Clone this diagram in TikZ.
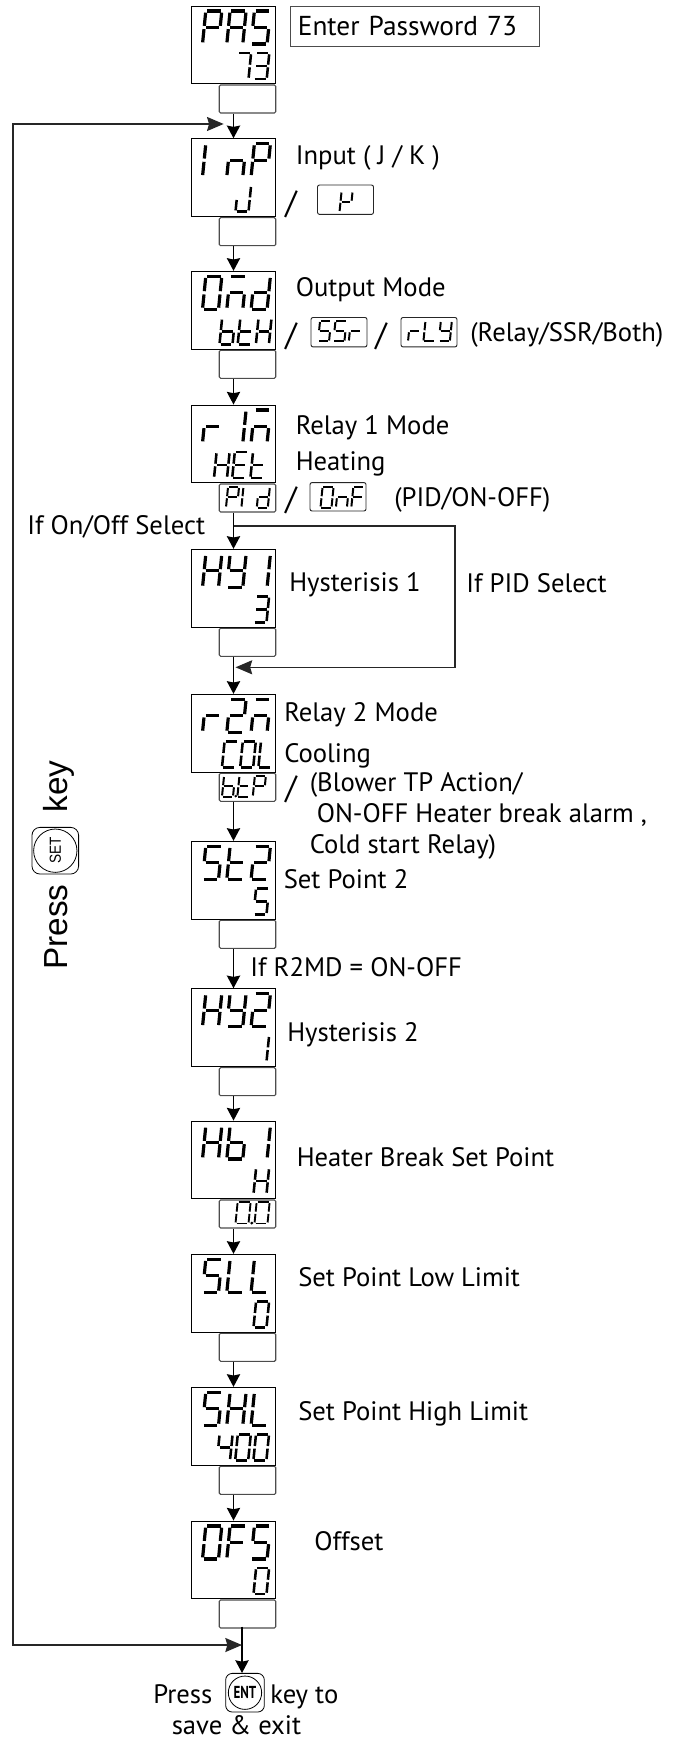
\documentclass[tikz,border=0pt]{standalone}
\usepackage{fontspec}
\setmainfont{PT Sans}
\newfontfamily\arialfont{Liberation Sans}
\usetikzlibrary{arrows.meta}

\tikzset{
  dispbox/.style={draw,line width=.8pt,minimum width=63.4pt,minimum height=58.4pt,inner sep=0pt},
  keybox/.style={draw=black!70,line width=.8pt,rounded corners=1pt,minimum width=42.4pt,minimum height=21pt,inner sep=0pt},
  optbox/.style={draw=black!85,line width=.7pt,rounded corners=1.5pt,inner sep=0pt},
  lbl/.style={anchor=base west,inner sep=0pt,font=\fontsize{20}{22}\selectfont},
  slashmark/.style={lbl,font=\fontsize{24}{24}\selectfont},
  flow/.style={-{Stealth[length=9.5pt,width=10pt,inset=1pt]},line width=.9pt},
  back/.style={{Stealth[length=12.5pt,width=10.5pt,inset=1.5pt]}-{Stealth[length=12.5pt,width=10.5pt,inset=1.5pt]},line width=1.1pt,draw=black!85},
}

% segments of one digit cell
\def\lcdsega{\draw (.08,1) -- (.92,1);}
\def\lcdsegb{\draw (1,.95) -- (1,.55);}
\def\lcdsegc{\draw (1,.45) -- (1,.05);}
\def\lcdsegd{\draw (.08,0) -- (.92,0);}
\def\lcdsege{\draw (0,.45) -- (0,.05);}
\def\lcdsegf{\draw (0,.95) -- (0,.55);}
\def\lcdsegg{\draw (.1,.5) -- (.9,.5);}
\def\lcdsegp{\fill (1.25,.02) ellipse (.13 and .07);}

% segments lit for each reading
\def\lcdglyphP{a,b,e,f,g}
\def\lcdglyphA{a,b,c,e,f,g}
\def\lcdglyphS{a,c,d,f,g}
\def\lcdglyphI{e,f}
\def\lcdglyphn{c,e,g}
\def\lcdglyphM{a,c,e,g}
\def\lcdglyphd{b,c,d,e,g}
\def\lcdglyphb{c,d,e,f,g}
\expandafter\def\csname lcdglyphb.\endcsname{c,d,e,f,g,p}
\def\lcdglypht{d,e,f,g}
\def\lcdglyphH{b,c,e,f,g}
\def\lcdglyphE{a,d,e,f,g}
\def\lcdglyphr{e,g}
\def\lcdglyphY{b,c,d,f,g}
\def\lcdglyphJ{b,c,d,e}
\def\lcdglyphC{a,d,e,f}
\def\lcdglyphL{d,e,f}
\def\lcdglyphF{a,e,f,g}
\def\lcdglyphK{b,e,f,g}
\def\lcdglyphO{a,b,c,d,e,f}
\expandafter\def\csname lcdglyph0\endcsname{a,b,c,d,e,f}
\expandafter\def\csname lcdglyph0.\endcsname{a,b,c,d,e,f,p}
\expandafter\def\csname lcdglyph1\endcsname{b,c}
\expandafter\def\csname lcdglyph2\endcsname{a,b,d,e,g}
\expandafter\def\csname lcdglyph3\endcsname{a,b,c,d,g}
\expandafter\def\csname lcdglyph4\endcsname{b,c,f,g}
\expandafter\def\csname lcdglyph5\endcsname{a,c,d,f,g}
\expandafter\def\csname lcdglyph7\endcsname{a,b,c}

% #1 left, #2 top, #3 height, #4 digit width, #5 pitch, #6 stroke, #7 digits
\newcommand{\lcdrow}[7]{
  \foreach \c [count=\i from 0] in {#7} {
    \begin{scope}[shift={(#1+\i*#5,#2+#3)},xscale=#4,yscale=-#3,xslant={-.1*#3/#4},line width=#6]
      \edef\seglist{\csname lcdglyph\c\endcsname}
      \foreach \s in \seglist {\csname lcdseg\s\endcsname}
    \end{scope}
  }
}
\newcommand{\lcdtop}[2]{\lcdrow{202.5}{#1+5}{33}{16}{24.3}{2.4pt}{#2}}
\newcommand{\lcdlow}[3]{\lcdrow{#1}{#2+47}{26}{13}{18.2}{1.9pt}{#3}}
\newcommand{\lcdopt}[3]{\lcdrow{#1}{#2}{20.5}{11}{15.4}{1.5pt}{#3}}
% one display and the key field under it
\newcommand{\lcdbox}[2]{
  \node[dispbox] (#1) at (233.5,#2+39) {};
  \node[keybox,anchor=north east] (#1key) at (#1.south east) {};
}

\begin{document}
\begin{tikzpicture}[x=.75pt,y=-.75pt]
  \useasboundingbox (0,0) rectangle (698,1740);

  \lcdbox{pas}{6}
  \lcdtop{6}{P,A,S}
  \lcdlow{235.5}{6}{7,3}
  \node[draw=black!70,line width=.8pt,minimum width=186.6pt,minimum height=30pt,inner sep=0pt,text width=176pt,align=left,font=\fontsize{20.5}{22}\selectfont] (passlabel) at (415.2,26.3) {Enter Password 73};

  \lcdbox{inp}{138.7}
  \lcdtop{138.7}{I,n,P}
  \lcdlow{235.5}{138.7}{J}
  \node[lbl] (inplabel) at (295.5,165) {Input ( J / K )};
  \node[slashmark] (inpslash) at (285,214) {/};
  \node[optbox,minimum width=42pt,minimum height=22pt] (inpk) at (345.5,199.7) {};
  \lcdopt{339.5}{191.5}{K}

  \lcdbox{omd}{271.3}
  \lcdtop{271.3}{O,M,d}
  \lcdlow{219.5}{271.3}{b,t,H}
  \node[lbl] (omdlabel) at (295.5,296.7) {Output Mode};
  \node[slashmark] (omdslash) at (285,346) {/};
  \node[optbox,minimum width=42pt,minimum height=22pt] (omdssr) at (339,332.2) {};
  \lcdopt{318}{321}{5,5,r}
  \node[slashmark] (omdslashb) at (375,346) {/};
  \node[optbox,minimum width=42pt,minimum height=22pt] (omdrly) at (429,332.2) {};
  \lcdopt{408}{321}{r,L,Y}
  \node[lbl] (omdnote) at (470,341.7) {(Relay/SSR/Both)};

  \lcdbox{rim}{405}
  \lcdtop{405}{r,1,M}
  \lcdlow{214}{405}{H,E,t}
  \lcdopt{226}{487}{P,I,d}
  \node[lbl] (rimlabel) at (295.5,435) {Relay 1 Mode};
  \node[lbl] (rimheat) at (295.5,470) {Heating};
  \node[slashmark] (rimslash) at (285,509) {/};
  \node[optbox,minimum width=42pt,minimum height=21.3pt] (rimonf) at (338,496.8) {};
  \lcdopt{320.5}{487}{O,n,F}
  \node[lbl] (rimnote) at (394,506.7) {(PID/ON-OFF)};
  \node[lbl] (onofflabel) at (27,534) {If On/Off Select};

  \lcdbox{hya}{549.3}
  \lcdtop{549.3}{H,Y,1}
  \lcdlow{253.5}{549.3}{3}
  \node[lbl] (hyalabel) at (289,591) {Hysterisis 1};
  \node[lbl] (pidlabel) at (466,592) {If PID Select};

  \lcdbox{rtm}{694.3}
  \lcdtop{694.3}{r,2,M}
  \lcdlow{222}{694.3}{C,O,L}
  \lcdopt{222}{776}{b.,t,P}
  \node[lbl] (rtmlabel) at (284,721.7) {Relay 2 Mode};
  \node[lbl] (rtmcool) at (284,762.7) {Cooling};
  \node[slashmark] (rtmslash) at (285,798) {/};
  \node[lbl] (rtmnotea) at (309.5,791.7) {(Blower TP Action/};
  \node[lbl] (rtmnoteb) at (316.5,822.7) {ON-OFF Heater break alarm ,};
  \node[lbl] (rtmnotec) at (309.5,853) {Cold start Relay)};

  \lcdbox{stb}{841.3}
  \lcdtop{841.3}{S,t,2}
  \lcdlow{253.5}{841.3}{5}
  \node[lbl] (stblabel) at (283.5,888.3) {Set Point 2};
  \node[lbl] (rtwolabel) at (250,976.7) {If R2MD = ON-OFF};

  \lcdbox{hyb}{988.7}
  \lcdtop{988.7}{H,Y,2}
  \lcdlow{253.5}{988.7}{1}
  \node[lbl] (hyblabel) at (287,1041) {Hysterisis 2};

  \lcdbox{hba}{1121}
  \lcdtop{1121}{H,b,1}
  \lcdlow{253.5}{1121}{H}
  \lcdrow{235.5}{1202}{21.5}{13}{19}{1.4pt}{0.,0}
  \node[lbl] (hbalabel) at (296.5,1166.7) {Heater Break Set Point};

  \lcdbox{sll}{1254.3}
  \lcdtop{1254.3}{S,L,L}
  \lcdlow{253.5}{1254.3}{0}
  \node[lbl] (slllabel) at (298,1286.7) {Set Point Low Limit};

  \lcdbox{shl}{1387.3}
  \lcdtop{1387.3}{S,H,L}
  \lcdlow{217}{1387.3}{4,0,0}
  \node[lbl] (shllabel) at (298,1420.7) {Set Point High Limit};

  \lcdbox{ofs}{1521}
  \lcdtop{1521}{O,F,S}
  \lcdlow{253.5}{1521}{0}
  \node[lbl] (ofslabel) at (314,1550) {Offset};

  % keys
  \node[draw,line width=.6pt,rounded corners=5pt,minimum width=29pt,minimum height=29pt,inner sep=0pt] (entkey) at (245,1692.7) {};
  \node[draw,line width=.6pt,circle,minimum size=25pt,inner sep=0pt,font=\fontsize{13}{13}\bfseries] (entcap) at (entkey) {\scalebox{.75}[1]{ENT}};
  \node[lbl] (presslabel) at (153,1703) {Press};
  \node[lbl] (keytolabel) at (270,1703) {key to};
  \node[lbl] (savelabel) at (171.5,1734) {save \& exit};

  \node[draw,line width=.6pt,rounded corners=6pt,minimum width=35pt,minimum height=35pt,inner sep=0pt] (setkey) at (55.3,850.7) {};
  \node[draw,line width=.6pt,circle,minimum size=32.5pt,inner sep=0pt,rotate=90,font=\arialfont\fontsize{12}{12}\selectfont] (setcap) at (setkey) {\scalebox{.85}[1]{SET}};
  \node[lbl,rotate=90,font=\arialfont\fontsize{25}{26}\selectfont] (pressset) at (67,970) {Press};
  \node[lbl,rotate=90,font=\arialfont\fontsize{25}{26}\selectfont] (keyset) at (67,812.7) {key};

  % connectors
  \coordinate (looptop) at (223.7,124);
  \coordinate (loopend) at (242,1645);
  \coordinate (ofsdrop) at (242,1626.7);
  \coordinate (pidfork) at (233.5,526);
  \coordinate (pidback) at (235.5,667.3);

  \draw[flow] (pas |- paskey.south) -- (inp.north);
  \draw[flow] (inp |- inpkey.south) -- (omd.north);
  \draw[flow] (omd |- omdkey.south) -- (rim.north);
  \draw[flow] (rim |- rimkey.south) -- (hya.north);
  \draw[flow] (hya |- hyakey.south) -- (rtm.north);
  \draw[flow] (rtm |- rtmkey.south) -- (stb.north);
  \draw[flow] (stb |- stbkey.south) -- (hyb.north);
  \draw[flow] (hyb |- hybkey.south) -- (hba.north);
  \draw[flow] (hba |- hbakey.south) -- (sll.north);
  \draw[flow] (sll |- sllkey.south) -- (shl.north);
  \draw[flow] (shl |- shlkey.south) -- (ofs.north);
  \draw[flow] (ofsdrop) -- (ofsdrop |- entkey.north);

  \draw[back] (looptop) -- (13,124) -- (13,1645) -- (loopend);
  \draw[line width=1.1pt,draw=black!85,-{Stealth[length=12.5pt,width=10.5pt,inset=1.5pt]}] (pidfork) -- (455,526) -- (455,667.3) -- (pidback);
\end{tikzpicture}
\end{document}
